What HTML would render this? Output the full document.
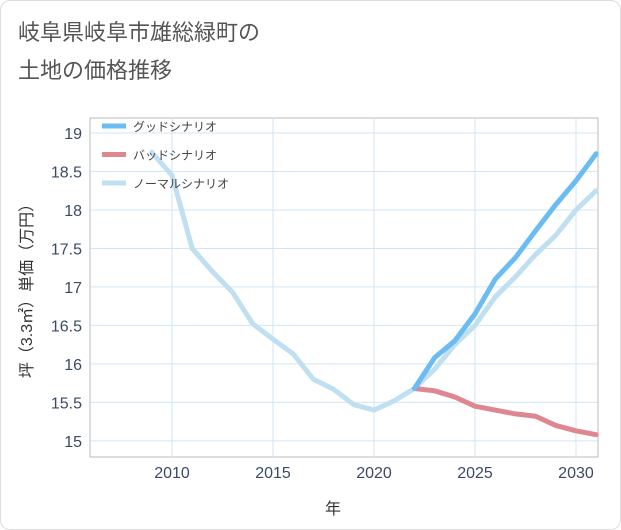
<!DOCTYPE html>
<html><head><meta charset="utf-8"><style>
body{margin:0;background:#fff;font-family:"Liberation Sans","Noto Sans CJK JP",sans-serif;}
#card{position:absolute;left:0;top:0;width:619px;height:528px;border:1px solid #ddd;border-radius:10px;background:#fff;}
</style></head><body>
<div id="card"></div>
<svg id="chart" width="621" height="530" style="position:absolute;left:0;top:0">
<text x="18" y="40" font-size="22" fill="#555">岐阜県岐阜市雄総緑町の</text>
<text x="18" y="78" font-size="22" fill="#555">土地の価格推移</text>
<g id="grid"></g><g id="axes"></g><g id="series"></g><g id="legend"></g>
<text x="333" y="514" font-size="16" fill="#333" text-anchor="middle">年</text>
<text transform="translate(32,287) rotate(-90)" font-size="16" fill="#333" text-anchor="middle">坪（3.3㎡）単価（万円）</text>
</svg>
<script>
const years=[2009,2010,2011,2012,2013,2014,2015,2016,2017,2018,2019,2020,2021,2022,2023,2024,2025,2026,2027,2028,2029,2030,2031];
const normalValues=[18.75,18.45,17.5,17.2,16.93,16.52,16.32,16.13,15.8,15.67,15.47,15.4,15.52,15.68,15.93,16.25,16.5,16.87,17.13,17.42,17.67,18.0,18.25];
const futureYears=[2022,2023,2024,2025,2026,2027,2028,2029,2030,2031];
const goodValues=[15.68,16.08,16.3,16.65,17.1,17.38,17.73,18.07,18.38,18.73];
const badValues=[15.68,15.65,15.57,15.45,15.4,15.35,15.32,15.2,15.13,15.08];
const xTicks=[2010,2015,2020,2025,2030];
const yTicks=[15,15.5,16,16.5,17,17.5,18,18.5,19];
const seriesNames=["グッドシナリオ","バッドシナリオ","ノーマルシナリオ"];
const L=90,R=598,T=118,B=457;
const xs=y=>L+(y-2005.94)/(2031.09-2005.94)*(R-L);
const ys=v=>B-(v-14.79)/(19.195-14.79)*(B-T);
const NS="http://www.w3.org/2000/svg";
function mk(p,t,a){const e=document.createElementNS(NS,t);for(const k in a)e.setAttribute(k,a[k]);p.appendChild(e);return e;}
const grid=document.getElementById('grid'),axes=document.getElementById('axes'),ser=document.getElementById('series'),leg=document.getElementById('legend');
const frame=mk(grid,'rect',{x:L,y:T,width:R-L,height:B-T,fill:'none',stroke:'#bbb'});


xTicks.forEach(t=>{
 const g=mk(grid,'line',{x1:xs(t),x2:xs(t),y1:T,y2:B,stroke:'#d0e6f4'});
 
 
 const tx=mk(axes,'text',{x:xs(t),y:B+21,'font-size':16,fill:'#3a4a66','text-anchor':'middle'});
 tx.textContent=t;
 
 
});
yTicks.forEach(t=>{
 const g=mk(grid,'line',{x1:L,x2:R,y1:ys(t),y2:ys(t),stroke:'#d0e6f4'});
 
 
 const tx=mk(axes,'text',{x:L-8,y:ys(t)+6,'font-size':16,fill:'#3a4a66','text-anchor':'end'});
 tx.textContent=t;
 
 
});
function line(xv,vals,color,name){
 const d=xv.map((y,i)=>(i?'L':'M')+xs(y)+','+ys(vals[i])).join(' ');
 const p=mk(ser,'path',{d:d,fill:'none',stroke:color,'stroke-width':5,'stroke-linejoin':'round','stroke-linecap':'round'});
 
 
}
line(years,normalValues,'#c0dff0','normal-scenario-line');
line(futureYears,badValues,'#de8790','bad-scenario-line');
line(futureYears,goodValues,'#6bbcf3','good-scenario-line');
const cols=['#6bbcf3','#de8790','#c0dff0'];
seriesNames.forEach((n,i)=>{
 const y=126+i*28.5;
 const l=mk(leg,'line',{x1:102,x2:126,y1:y,y2:y,stroke:cols[i],'stroke-width':5});
 
 
 const t=mk(leg,'text',{x:133,y:y+5,'font-size':12,fill:'#444'});
 t.textContent=n;
 
 
});
</script>
</body></html>
